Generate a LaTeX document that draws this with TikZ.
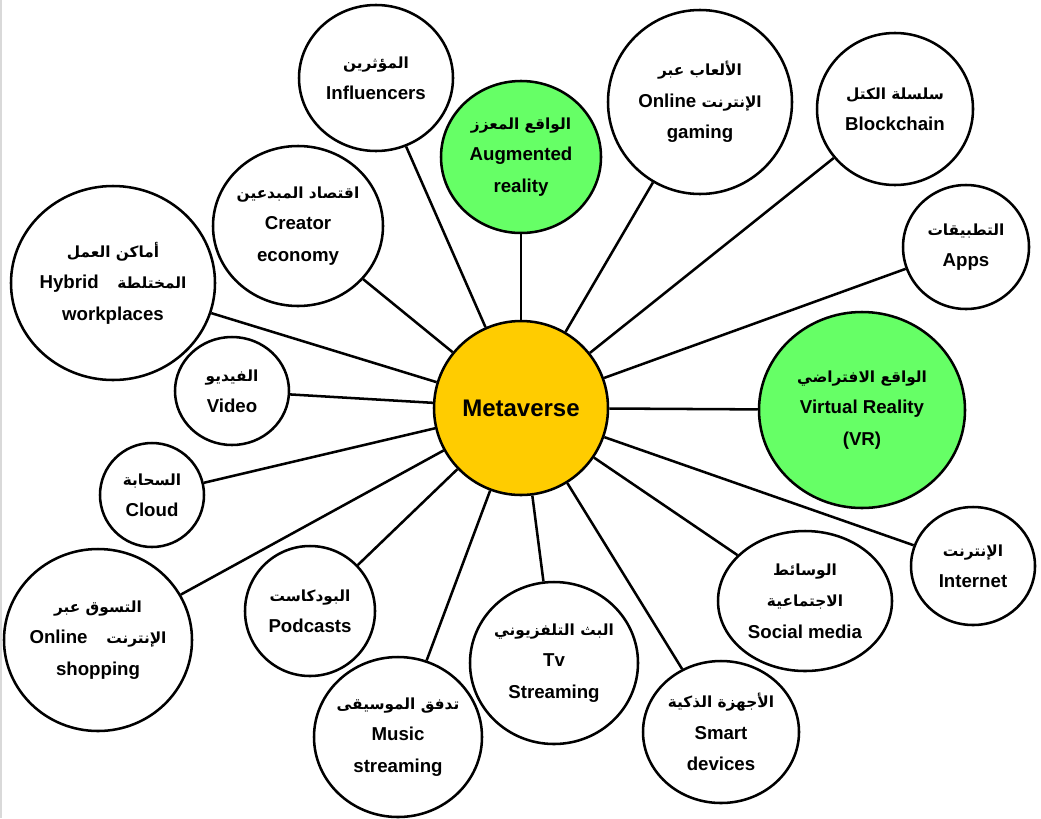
\documentclass[tikz,border=0pt]{standalone}
\usepackage{fontspec}
\usepackage{tikz}
\usetikzlibrary{shapes.geometric}
\setmainfont{Liberation Sans}
\newfontfamily\arabicfont[Script=Arabic]{DejaVu Sans}
\TeXXeTstate=1
\newcommand{\arfont}{\arabicfont\bfseries\fontsize{11.5}{23.6}\selectfont}
\definecolor{metayellow}{HTML}{FFCC00}
\definecolor{realgreen}{HTML}{66FF66}
\tikzstyle{bag} = [ellipse, draw, fill=white, line width=1.9pt, inner sep=0pt]
\tikzstyle{txt} = [align=center, inner sep=0pt, font=\bfseries\fontsize{14}{23.6}\selectfont]
\tikzstyle{spoke} = [line width=1.9pt]
\tikzset{rad/.style 2 args={minimum width=#1*1.5pt, minimum height=#2*1.5pt}}

\begin{document}
\begin{tikzpicture}[x=0.75pt, y=-0.75pt]
  \useasboundingbox (0,0) rectangle (1041,818);
  \fill[white] (0,0) rectangle (1041,818);
  \draw[black!15, line width=2pt] (1,0) -- (1,818);

  \node [bag,rad={87}{87},fill=metayellow,
    label={[txt,font=\bfseries\fontsize{18}{23.6}\selectfont]center:Metaverse}] (meta) at (521,408) {};

  % top
  \node [bag,rad={77}{73},label={[txt]center:{{\arfont\beginR المؤثرين\endR} \\ Influencers}}] (infl) at (376,78) {};
  \node [bag,rad={80}{76},fill=realgreen,label={[txt]center:{{\arfont\beginR الواقع المعزز\endR} \\ Augmented \\ reality}}] (aug) at (521,157) {};
  \node [bag,rad={92}{92},label={[txt]center:{{\arfont\beginR الألعاب عبر\endR} \\ Online {\arfont\beginR الإنترنت\endR} \\ gaming}}] (game) at (700,102) {};
  \node [bag,rad={78}{76},label={[txt]center:{{\arfont\beginR سلسلة الكتل\endR} \\ Blockchain}}] (block) at (895,109) {};
  \node [bag,rad={63}{62},label={[txt]center:{{\arfont\beginR التطبيقات\endR} \\ Apps}}] (apps) at (966,247) {};

  % right
  \node [bag,rad={103}{98},fill=realgreen,label={[txt]center:{{\arfont\beginR الواقع الافتراضي\endR} \\ Virtual Reality \\ (VR)}}] (vr) at (862,410) {};
  \node [bag,rad={62}{59},label={[txt]center:{{\arfont\beginR الإنترنت\endR} \\ Internet}}] (inet) at (973,566) {};
  \node [bag,rad={87}{70},label={[txt]center:{{\arfont\beginR الوسائط\endR} \\ {\arfont\beginR الاجتماعية\endR} \\ Social media}}] (social) at (805,601) {};

  % bottom
  \node [bag,rad={78}{71},label={[txt]center:{{\arfont\beginR الأجهزة الذكية\endR} \\ Smart \\ devices}}] (smart) at (721,732) {};
  \node [bag,rad={84}{81},label={[txt]center:{{\arfont\beginR البث التلفزيوني\endR} \\ Tv \\ Streaming}}] (tv) at (554,663) {};
  \node [bag,rad={84}{80},label={[txt]center:{{\arfont\beginR تدفق الموسيقى\endR} \\ Music \\ streaming}}] (music) at (398,737) {};
  \node [bag,rad={65}{65},label={[txt]center:{{\arfont\beginR البودكاست\endR} \\ Podcasts}}] (pod) at (310,611) {};
  \node [bag,rad={94}{91},label={[txt]center:{{\arfont\beginR التسوق عبر\endR} \\ Online\quad{\arfont\beginR الإنترنت\endR} \\ shopping}}] (shop) at (98,640) {};

  % left
  \node [bag,rad={52}{52},label={[txt]center:{{\arfont\beginR السحابة\endR} \\ Cloud}}] (cloud) at (152,495) {};
  \node [bag,rad={57}{54},label={[txt]center:{{\arfont\beginR الفيديو\endR} \\ Video}}] (video) at (232,391) {};
  \node [bag,rad={102}{97},label={[txt]center:{{\arfont\beginR أماكن العمل\endR} \\ Hybrid\quad{\arfont\beginR المختلطة\endR} \\ workplaces}}] (hybrid) at (113,283) {};
  \node [bag,rad={85}{80},label={[txt]center:{{\arfont\beginR اقتصاد المبدعين\endR} \\ Creator \\ economy}}] (creator) at (298,226) {};

  \foreach \n in {infl,aug,game,block,apps,vr,inet,social,smart,tv,music,pod,shop,cloud,video,hybrid,creator}
    \draw [spoke] (meta) -- (\n);
\end{tikzpicture}
\end{document}
